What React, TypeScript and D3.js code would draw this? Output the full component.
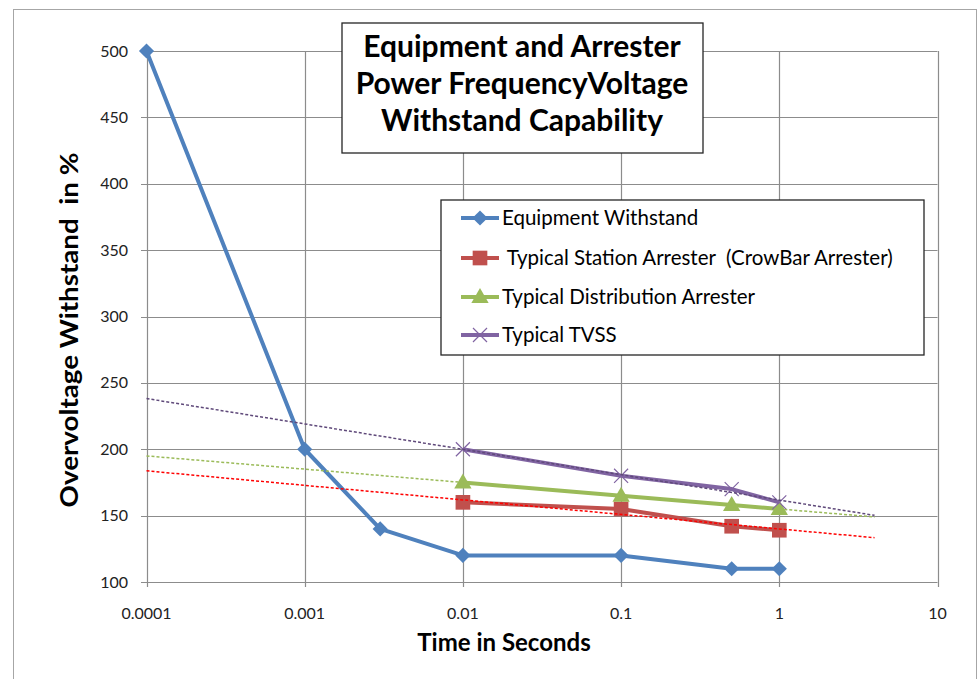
import { useEffect, useRef } from "react";
import * as d3 from "d3";

// данные графика
const xTickValues = [0.0001, 0.001, 0.01, 0.1, 1, 10];
const xTickLabels = ["0.0001", "0.001", "0.01", "0.1", "1", "10"];
const yTickValues = [100, 150, 200, 250, 300, 350, 400, 450, 500];

const equipTimes = [0.0001, 0.001, 0.003, 0.01, 0.1, 0.5, 1];
const equipValues = [500, 200, 140, 120, 120, 110, 110];

const arresterTimes = [0.01, 0.1, 0.5, 1];
const stationValues = [160, 155, 142, 139];
const distributionValues = [175, 165, 158, 155];
const tvssValues = [200, 180, 170, 160];

// диапазон линий тренда (с прогнозом назад и вперёд)
const trendRange = [0.0001, 4];

const titleLines = ["Equipment and Arrester", "Power FrequencyVoltage", "Withstand Capability"];
const legendLabels = [
  "Equipment Withstand",
  " Typical Station Arrester  (CrowBar Arrester)",
  "Typical Distribution Arrester",
  "Typical TVSS",
];

const App = () => {
  const svgRef = useRef(null);

  useEffect(() => {
    const W = 979;
    const H = 679;
    const font = "Lato, 'Open Sans', sans-serif";

    d3.select(svgRef.current).selectAll("*").remove();
    const svg = d3.select(svgRef.current).attr("width", W).attr("height", H);

    svg.append("rect").attr("width", W).attr("height", H).attr("fill", "#fff");
    // рамка диаграммы
    svg
      .append("rect")
      .attr("x", 13.5)
      .attr("y", 9.5)
      .attr("width", 963)
      .attr("height", 690)
      .attr("fill", "none")
      .attr("stroke", "#a6a6a6");

    const x = d3.scaleLog().domain([0.0001, 10]).range([146.5, 937.5]);
    const y = d3.scaleLinear().domain([100, 500]).range([582, 51]);
    const grid = "#8c8c8c";

    // сетка
    svg
      .append("g")
      .selectAll("line")
      .data(yTickValues)
      .enter()
      .append("line")
      .attr("x1", 141)
      .attr("x2", x(10))
      .attr("y1", (d) => Math.round(y(d)) + 0.5)
      .attr("y2", (d) => Math.round(y(d)) + 0.5)
      .attr("stroke", grid)
      .attr("stroke-width", 1.2);

    svg
      .append("g")
      .selectAll("line")
      .data(xTickValues)
      .enter()
      .append("line")
      .attr("x1", (d) => Math.round(x(d)) + 0.5)
      .attr("x2", (d) => Math.round(x(d)) + 0.5)
      .attr("y1", y(500))
      .attr("y2", 587)
      .attr("stroke", grid)
      .attr("stroke-width", 1.2);

    // подписи осей
    svg
      .append("g")
      .selectAll("text")
      .data(yTickValues)
      .enter()
      .append("text")
      .attr("x", 128)
      .attr("y", (d) => y(d))
      .attr("dy", "0.35em")
      .attr("text-anchor", "end")
      .attr("font-family", font)
      .attr("font-size", 16)
      .attr("fill", "#222")
      .text((d) => d);

    svg
      .append("g")
      .selectAll("text")
      .data(xTickValues)
      .enter()
      .append("text")
      .attr("x", (d) => x(d))
      .attr("y", 613)
      .attr("dy", "0.35em")
      .attr("text-anchor", "middle")
      .attr("font-family", font)
      .attr("font-size", 16)
      .attr("fill", "#222")
      .text((d, i) => xTickLabels[i]);

    svg
      .append("text")
      .attr("transform", "translate(69,330) rotate(-90)")
      .attr("dy", "0.35em")
      .attr("text-anchor", "middle")
      .attr("font-family", font)
      .attr("font-weight", "bold")
      .attr("font-size", 25)
      .attr("textLength", 355)
      .attr("lengthAdjust", "spacingAndGlyphs")
      .style("white-space", "pre")
      .text("Overvoltage Withstand  in %");

    svg
      .append("text")
      .attr("x", 504)
      .attr("y", 643)
      .attr("dy", "0.35em")
      .attr("text-anchor", "middle")
      .attr("font-family", font)
      .attr("font-weight", "bold")
      .attr("font-size", 24)
      .text("Time in Seconds");

    const series = [
      { name: legendLabels[0], times: equipTimes, values: equipValues, color: "#4f81bd", marker: "diamond", trend: null },
      { name: legendLabels[1], times: arresterTimes, values: stationValues, color: "#c0504d", marker: "square", trend: "#ff0000" },
      { name: legendLabels[2], times: arresterTimes, values: distributionValues, color: "#9bbb59", marker: "triangle", trend: "#9bbb59" },
      { name: legendLabels[3], times: arresterTimes, values: tvssValues, color: "#8064a2", marker: "x", trend: "#5f497a" },
    ];

    const drawMarker = (g, type, color, cx, cy) => {
      if (type === "diamond") {
        g.append("path")
          .attr("d", d3.symbol(d3.symbolSquare, 115)())
          .attr("transform", `translate(${cx},${cy}) rotate(45)`)
          .attr("fill", color);
      } else if (type === "square") {
        g.append("path")
          .attr("d", d3.symbol(d3.symbolSquare, 215)())
          .attr("transform", `translate(${cx},${cy})`)
          .attr("fill", color);
      } else if (type === "triangle") {
        g.append("path")
          .attr("d", d3.symbol(d3.symbolTriangle, 130)())
          .attr("transform", `translate(${cx},${cy + 1})`)
          .attr("fill", color);
      } else {
        g.append("path")
          .attr("d", d3.symbol(d3.symbolX, 130)())
          .attr("transform", `translate(${cx},${cy})`)
          .attr("fill", "none")
          .attr("stroke", color)
          .attr("stroke-width", 1.2);
      }
    };

    const line = d3
      .line()
      .x((d) => x(d[0]))
      .y((d) => y(d[1]));

    // линии серий и маркеры
    series.forEach((s) => {
      const pts = s.times.map((t, i) => [t, s.values[i]]);
      const g = svg.append("g");
      g.append("path")
        .attr("d", line(pts))
        .attr("fill", "none")
        .attr("stroke", s.color)
        .attr("stroke-width", 4)
        .attr("stroke-linejoin", "round");
      pts.forEach((p) => drawMarker(g, s.marker, s.color, x(p[0]), y(p[1])));
    });

    // логарифмические линии тренда (МНК по log10 t)
    series.forEach((s) => {
      if (!s.trend) return;
      const lx = s.times.map((t) => Math.log10(t));
      const mx = d3.mean(lx);
      const my = d3.mean(s.values);
      const sxy = d3.sum(lx, (v, i) => (v - mx) * (s.values[i] - my));
      const sxx = d3.sum(lx, (v) => (v - mx) ** 2);
      const slope = sxy / sxx;
      const b = my - slope * mx;
      const pts = trendRange.map((t) => [t, b + slope * Math.log10(t)]);
      svg
        .append("path")
        .attr("d", line(pts))
        .attr("fill", "none")
        .attr("stroke", s.trend)
        .attr("stroke-width", 1.5)
        .attr("stroke-dasharray", "3,2");
    });

    // заголовок
    const tg = svg.append("g");
    tg.append("rect")
      .attr("x", 342)
      .attr("y", 23)
      .attr("width", 361)
      .attr("height", 130)
      .attr("fill", "#fff")
      .attr("stroke", "#262626")
      .attr("stroke-width", 1.3);
    titleLines.forEach((t, i) => {
      tg.append("text")
        .attr("x", 522)
        .attr("y", 57 + i * 37)
        .attr("text-anchor", "middle")
        .attr("font-family", font)
        .attr("font-weight", "bold")
        .attr("font-size", 30)
        .text(t);
    });

    // легенда
    const lg = svg.append("g");
    lg.append("rect")
      .attr("x", 441)
      .attr("y", 200)
      .attr("width", 483)
      .attr("height", 155)
      .attr("fill", "#fff")
      .attr("stroke", "#262626")
      .attr("stroke-width", 1.3);
    const rowY = [218, 258, 297, 335];
    series.forEach((s, i) => {
      lg.append("line")
        .attr("x1", 461)
        .attr("x2", 499)
        .attr("y1", rowY[i])
        .attr("y2", rowY[i])
        .attr("stroke", s.color)
        .attr("stroke-width", 4);
      drawMarker(lg, s.marker, s.color, 480, rowY[i]);
      lg.append("text")
        .attr("x", 502)
        .attr("y", rowY[i])
        .attr("dy", "0.35em")
        .attr("font-family", font)
        .attr("font-size", 20.5)
        .style("white-space", "pre")
        .text(s.name);
    });
  }, []);

  return (
    <div style={{ position: "fixed", left: 0, top: 0 }}>
      <svg ref={svgRef} style={{ display: "block" }}></svg>
    </div>
  );
};

export default App;
